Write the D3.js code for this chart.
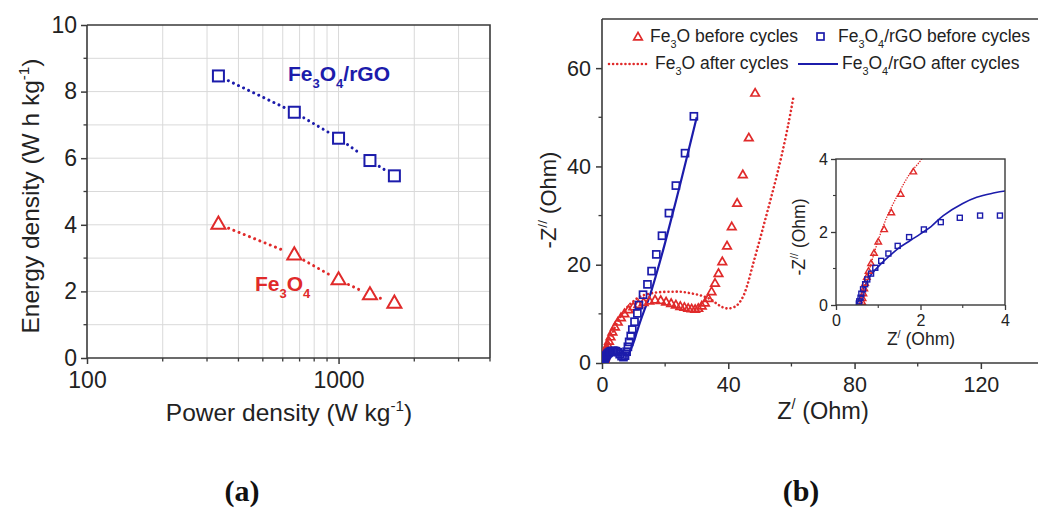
<!DOCTYPE html>
<html>
<head>
<meta charset="utf-8">
<script src="https://cdn.jsdelivr.net/npm/d3@7"></script>
<style>
  html, body { margin: 0; padding: 0; background: #fff; }
  svg { display: block; font-family: "Liberation Sans", Arial, sans-serif; }
</style>
</head>
<body>
<svg id="fig" width="1038" height="509"></svg>
<script>
// ---------- (a) Ragone plot ----------
const powerDensity = [333, 667, 1000, 1333, 1667];          // W kg-1
const energyRGO    = [8.47, 7.38, 6.6, 5.93, 5.47];         // Fe3O4/rGO, W h kg-1
const energyFe3O4  = [4.02, 3.1, 2.35, 1.9, 1.65];          // Fe3O4, W h kg-1
const ragoneXTicks = [100, 1000];
const ragoneYTicks = [0, 2, 4, 6, 8, 10];

// ---------- (b) Nyquist plot ----------
// Fe3O4 before cycles (triangles): Z' and -Z''
const feBeforeRe = [0.62,0.63,0.65,0.67,0.69,0.73,0.77,0.83,0.90,1.00,1.14,1.31,1.53,1.83,
  2.2,2.7,3.3,4.1,5.0,6.0,7.1,8.4,9.9,11.5,13.2,15.0,16.8,18.6,20.3,21.9,23.4,24.8,26.1,27.3,
  28.4,29.5,30.5,31.6,32.6,33.7,34.7,35.8,36.9,38.1,39.6,41.1,42.8,44.6,46.5,48.5];
const feBeforeIm = [0.08,0.18,0.31,0.45,0.60,0.76,0.93,1.14,1.42,1.73,2.07,2.53,3.04,3.65,
  4.4,5.3,6.3,7.3,8.3,9.2,10.0,10.8,11.4,11.9,12.3,12.6,12.8,12.7,12.4,12.1,11.8,11.5,11.3,11.1,
  11.0,10.9,11.1,11.6,12.2,13.1,14.5,16.2,18.2,20.6,23.8,27.7,32.5,38.3,45.8,54.9];
// Fe3O4/rGO before cycles (squares)
const rgoBeforeRe = [0.54,0.55,0.58,0.60,0.64,0.69,0.74,0.83,0.93,1.07,1.24,1.46,1.73,2.08,2.48,2.93,3.41,3.88,
  4.4,5.0,5.6,6.2,6.8,7.3,7.8,8.2,8.6,9.1,9.6,10.3,11.2,11.7,13.0,14.4,15.7,17.2,19.0,21.2,23.4,26.3,29.1];
const rgoBeforeIm = [0.04,0.10,0.20,0.31,0.43,0.57,0.70,0.86,1.02,1.21,1.41,1.62,1.86,2.07,2.27,2.39,2.45,2.45,
  2.4,2.2,1.8,1.4,1.2,1.5,2.3,3.3,4.3,5.5,6.8,8.4,10.1,11.8,13.9,16.0,18.7,22.1,25.9,30.5,36.1,42.7,50.2];
// Fe3O4 after cycles (dotted line)
const feAfterRe = [0.62,0.66,0.72,0.8,0.95,1.2,1.5,1.75,2.03,2.6,3.4,4.5,6,8,10,12,15,18,22,25,28,31,34,36.3,38,40,
  42.5,44.5,46,47.5,49,51,53,55,57,59,60.6];
const feAfterIm = [0,0.3,0.6,1.0,1.6,2.4,3.1,3.6,4.0,5.0,6.3,7.8,9.6,11.4,12.6,13.5,14.1,14.4,14.5,14.5,14.2,13.8,13.1,12.1,11.4,11.1,
  11.6,13.3,15.8,19.3,22.8,27.5,32.3,37.2,42.5,48.5,54];
// Fe3O4/rGO after cycles (solid line)
const rgoAfterRe = [0.49,0.6,0.8,1.04,1.28,1.5,1.75,2.0,2.25,2.54,3.0,3.33,3.7,4.04,4.6,5.3,6.0,6.8,7.5,8.2,9,10,11,12,13.5,15,17,20,25,30];
const rgoAfterIm = [0,0.3,0.78,1.1,1.36,1.57,1.76,1.95,2.15,2.45,2.78,2.95,3.06,3.13,3.15,3.0,2.6,2.0,1.6,1.6,2.6,4.2,6.2,8.2,10.9,13.4,17.6,24.5,37,50];

const nyqXTicks = [0, 40, 80, 120];
const nyqXMinor = [20, 60, 100, 140];
const nyqYTicks = [0, 20, 40, 60];
const nyqYMinor = [10, 30, 50];
const insetTicks = [0, 2, 4];
const insetMinor = [1, 3];

const BLUE = "#1c1cab";
const RED = "#e02a2a";
const AXIS = "#3a3a3a";
const GRID = "#d9d9d9";
const FONT = "Liberation Sans, Arial, sans-serif";

const svg = d3.select("#fig");

// Text with sub/superscripts: parts = [[text, "sub"|"sup"|""], ...]
function richText(parent, x, y, parts, size, attrs = {}) {
  const t = parent.append("text").attr("x", x).attr("y", y).attr("font-size", size)
    .attr("font-family", FONT);
  Object.entries(attrs).forEach(([k, v]) => t.attr(k, v));
  let shift = 0;
  parts.forEach(([s, kind]) => {
    const target = kind === "sub" ? size * 0.32 : kind === "sup" ? -size * 0.42 : 0;
    const ts = t.append("tspan").text(s).attr("dy", target - shift);
    if (kind) ts.attr("font-size", size * 0.62);
    shift = target;
  });
  return t;
}

// ================= (a) =================
const xL = d3.scaleLog().domain([100, 4000]).range([87, 490]);
const yL = d3.scaleLinear().domain([0, 10]).range([358, 25]);
const gA = svg.append("g");

// grid: every log step and every unit of energy
const logGrid = d3.range(2, 10).map(d => d * 100).concat([2000, 3000]);
gA.append("g").selectAll("line").data(logGrid).join("line")
  .attr("x1", d => xL(d)).attr("x2", d => xL(d)).attr("y1", yL(0)).attr("y2", yL(10))
  .attr("stroke", GRID).attr("stroke-width", 1);
gA.append("g").selectAll("line").data(d3.range(1, 10)).join("line")
  .attr("x1", xL(100)).attr("x2", xL(4000)).attr("y1", d => yL(d)).attr("y2", d => yL(d))
  .attr("stroke", GRID).attr("stroke-width", 1);
gA.append("line").attr("x1", xL(1000)).attr("x2", xL(1000)).attr("y1", yL(0)).attr("y2", yL(10))
  .attr("stroke", GRID);

// axes
const axLeftA = d3.axisLeft(yL).tickValues(ragoneYTicks).tickSize(6).tickPadding(4).tickFormat(d3.format("d"));
const gAy = gA.append("g").attr("transform", `translate(${xL(100)},0)`).call(axLeftA);
const axBottomA = d3.axisBottom(xL).tickValues(ragoneXTicks).tickSize(6).tickPadding(8).tickFormat(d3.format("d"));
const gAx = gA.append("g").attr("transform", `translate(0,${yL(0)})`).call(axBottomA);
// minor ticks
gA.append("g").selectAll("line").data([1, 3, 5, 7, 9]).join("line")
  .attr("x1", xL(100) - 3.5).attr("x2", xL(100)).attr("y1", d => yL(d)).attr("y2", d => yL(d))
  .attr("stroke", AXIS).attr("stroke-width", 1.3);
gA.append("g").selectAll("line").data(logGrid.concat([4000])).join("line")
  .attr("x1", d => xL(d)).attr("x2", d => xL(d)).attr("y1", yL(0)).attr("y2", yL(0) + 3.5)
  .attr("stroke", AXIS).attr("stroke-width", 1.3);
[gAy, gAx].forEach(g => {
  g.select(".domain").attr("stroke", AXIS).attr("stroke-width", 1.6);
  g.selectAll(".tick line").attr("stroke", AXIS).attr("stroke-width", 1.5);
  g.selectAll(".tick text").attr("font-size", 23).attr("fill", "#222").attr("font-family", FONT);
});
gAx.select(".domain").attr("d", `M${xL(100)},0H${xL(4000)}`);
gAy.select(".domain").attr("d", `M0,${yL(0)}V${yL(10)}`);
// frame
gA.append("path").attr("d", `M${xL(100)},${yL(10)}H${xL(4000)}V${yL(0)}`)
  .attr("fill", "none").attr("stroke", AXIS).attr("stroke-width", 1.6);

// dotted connectors broken around the markers
function gappedLine(g, pts, gap, color, width, dash) {
  for (let i = 0; i < pts.length - 1; i++) {
    const [x1, y1] = pts[i], [x2, y2] = pts[i + 1];
    const len = Math.hypot(x2 - x1, y2 - y1);
    const ux = (x2 - x1) / len, uy = (y2 - y1) / len;
    g.append("line")
      .attr("x1", x1 + ux * gap).attr("y1", y1 + uy * gap)
      .attr("x2", x2 - ux * gap).attr("y2", y2 - uy * gap)
      .attr("stroke", color).attr("stroke-width", width)
      .attr("stroke-linecap", "round").attr("stroke-dasharray", dash);
  }
}
const ptsRGO = powerDensity.map((p, i) => [xL(p), yL(energyRGO[i])]);
const ptsFe = powerDensity.map((p, i) => [xL(p), yL(energyFe3O4[i])]);
gappedLine(gA, ptsRGO, 11, BLUE, 3, "0.01 5.6");
gappedLine(gA, ptsFe, 11, RED, 3, "0.01 5.6");

const triPath = s => { const h = s * 0.866; return `M0,${-h * 0.62}L${s / 2},${h * 0.38}L${-s / 2},${h * 0.38}Z`; };
gA.append("g").selectAll("rect").data(ptsRGO).join("rect")
  .attr("x", d => d[0] - 5.5).attr("y", d => d[1] - 5.5).attr("width", 11).attr("height", 11)
  .attr("fill", "#fff").attr("stroke", BLUE).attr("stroke-width", 2);
gA.append("g").selectAll("path").data(ptsFe).join("path")
  .attr("transform", d => `translate(${d[0]},${d[1]})`).attr("d", triPath(14))
  .attr("fill", "#fff").attr("stroke", RED).attr("stroke-width", 2);

richText(gA, 288, 81, [["Fe", ""], ["3", "sub"], ["O", ""], ["4", "sub"], ["/rGO", ""]], 21,
  { fill: BLUE, "font-weight": "bold" });
richText(gA, 255, 291, [["Fe", ""], ["3", "sub"], ["O", ""], ["4", "sub"]], 21,
  { fill: RED, "font-weight": "bold" });

// axis titles
richText(gA, 289, 421, [["Power density (W kg", ""], ["-1", "sup"], [")", ""]], 24.5,
  { "text-anchor": "middle", fill: "#222" });
richText(gA, 0, 0, [["Energy density (W h kg", ""], ["-1", "sup"], [")", ""]], 24.5,
  { "text-anchor": "middle", fill: "#222", transform: "translate(39,196) rotate(-90)" });

// ================= (b) =================
const xR = d3.scaleLinear().domain([0, 140]).range([602, 1044]);
const yR = d3.scaleLinear().domain([0, 70]).range([363, 19]);
const gB = svg.append("g");
gB.append("clipPath").attr("id", "clipMain").append("rect")
  .attr("x", xR(0)).attr("y", yR(70)).attr("width", xR(140) - xR(0)).attr("height", yR(0) - yR(70));

const axLeftB = d3.axisLeft(yR).tickValues(nyqYTicks).tickSize(6).tickPadding(5);
const gBy = gB.append("g").attr("transform", `translate(${xR(0)},0)`).call(axLeftB);
const axBottomB = d3.axisBottom(xR).tickValues(nyqXTicks).tickSize(6).tickPadding(8);
const gBx = gB.append("g").attr("transform", `translate(0,${yR(0)})`).call(axBottomB);
[gBy, gBx].forEach(g => {
  g.select(".domain").attr("stroke", AXIS).attr("stroke-width", 1.6);
  g.selectAll(".tick line").attr("stroke", AXIS).attr("stroke-width", 1.5);
  g.selectAll(".tick text").attr("font-size", 21.5).attr("fill", "#222").attr("font-family", FONT);
});
gBx.select(".domain").attr("d", `M${xR(0)},0H${xR(140)}`);
gBy.select(".domain").attr("d", `M0,${yR(0)}V${yR(70)}`);
gB.append("g").selectAll("line").data(nyqYMinor).join("line")
  .attr("x1", xR(0) - 3.5).attr("x2", xR(0)).attr("y1", d => yR(d)).attr("y2", d => yR(d))
  .attr("stroke", AXIS).attr("stroke-width", 1.3);
gB.append("g").selectAll("line").data(nyqXMinor).join("line")
  .attr("x1", d => xR(d)).attr("x2", d => xR(d)).attr("y1", yR(0)).attr("y2", yR(0) + 3.5)
  .attr("stroke", AXIS).attr("stroke-width", 1.3);
gB.append("line").attr("x1", xR(0)).attr("x2", xR(140)).attr("y1", yR(70)).attr("y2", yR(70))
  .attr("stroke", AXIS).attr("stroke-width", 1.6);

function drawNyquist(g, x, y, clipId, sz) {
  const plot = g.append("g").attr("clip-path", `url(#${clipId})`);
  const line = d3.line().x(d => x(d[0])).y(d => y(d[1])).curve(d3.curveCatmullRom.alpha(0.5));
  plot.append("path").datum(feAfterRe.map((v, i) => [v, feAfterIm[i]]))
    .attr("d", line).attr("fill", "none").attr("stroke", RED)
    .attr("stroke-width", sz.dotW).attr("stroke-linecap", "round").attr("stroke-dasharray", sz.dash);
  plot.append("path").datum(rgoAfterRe.map((v, i) => [v, rgoAfterIm[i]]))
    .attr("d", line).attr("fill", "none").attr("stroke", BLUE).attr("stroke-width", sz.solidW);
  plot.append("g").selectAll("path").data(feBeforeRe.map((v, i) => [v, feBeforeIm[i]])).join("path")
    .attr("transform", d => `translate(${x(d[0])},${y(d[1])})`).attr("d", triPath(sz.tri))
    .attr("fill", "none").attr("stroke", RED).attr("stroke-width", sz.mw);
  plot.append("g").selectAll("rect").data(rgoBeforeRe.map((v, i) => [v, rgoBeforeIm[i]])).join("rect")
    .attr("x", d => x(d[0]) - sz.sq / 2).attr("y", d => y(d[1]) - sz.sq / 2)
    .attr("width", sz.sq).attr("height", sz.sq)
    .attr("fill", "none").attr("stroke", BLUE).attr("stroke-width", sz.mw);
}
drawNyquist(gB, xR, yR, "clipMain", { dotW: 2.6, dash: "0.01 4.1", solidW: 2.2, tri: 8.5, sq: 7, mw: 1.7 });

// axis titles
richText(gB, 823, 419, [["Z", ""], ["/", "sup"], [" (Ohm)", ""]], 23.5, { "text-anchor": "middle", fill: "#222" });
richText(gB, 0, 0, [["-Z", ""], ["//", "sup"], [" (Ohm)", ""]], 22,
  { "text-anchor": "middle", fill: "#222", transform: "translate(556,200) rotate(-90)" });

// legend
const LG = 17.5;
const lg = gB.append("g");
lg.append("path").attr("transform", "translate(638,37)").attr("d", triPath(8.5))
  .attr("fill", "none").attr("stroke", RED).attr("stroke-width", 1.7);
richText(lg, 650, 42, [["Fe", ""], ["3", "sub"], ["O before cycles", ""]], LG, { fill: "#222" });
lg.append("rect").attr("x", 817).attr("y", 33).attr("width", 7).attr("height", 7)
  .attr("fill", "none").attr("stroke", BLUE).attr("stroke-width", 1.7);
richText(lg, 838, 42, [["Fe", ""], ["3", "sub"], ["O", ""], ["4", "sub"], ["/rGO before cycles", ""]], LG, { fill: "#222" });
lg.append("line").attr("x1", 609).attr("x2", 647).attr("y1", 64).attr("y2", 64)
  .attr("stroke", RED).attr("stroke-width", 2.6).attr("stroke-linecap", "round").attr("stroke-dasharray", "0.01 4.1");
richText(lg, 655, 69, [["Fe", ""], ["3", "sub"], ["O after cycles", ""]], LG, { fill: "#222" });
lg.append("line").attr("x1", 798).attr("x2", 838).attr("y1", 64).attr("y2", 64)
  .attr("stroke", BLUE).attr("stroke-width", 2.2);
richText(lg, 842, 69, [["Fe", ""], ["3", "sub"], ["O", ""], ["4", "sub"], ["/rGO after cycles", ""]], LG, { fill: "#222" });

// ---------- inset ----------
const xI = d3.scaleLinear().domain([0, 4]).range([836, 1005]);
const yI = d3.scaleLinear().domain([0, 4]).range([305, 159]);
const gI = svg.append("g");
gI.append("rect").attr("x", xI(0)).attr("y", yI(4)).attr("width", xI(4) - xI(0)).attr("height", yI(0) - yI(4))
  .attr("fill", "#fff");
gI.append("clipPath").attr("id", "clipInset").append("rect")
  .attr("x", xI(0)).attr("y", yI(4)).attr("width", xI(4) - xI(0)).attr("height", yI(0) - yI(4));
drawNyquist(gI, xI, yI, "clipInset", { dotW: 1.5, dash: "0.01 2.6", solidW: 1.6, tri: 6.5, sq: 5, mw: 1.4 });
gI.append("rect").attr("x", xI(0)).attr("y", yI(4)).attr("width", xI(4) - xI(0)).attr("height", yI(0) - yI(4))
  .attr("fill", "none").attr("stroke", AXIS).attr("stroke-width", 1.4);
const gIy = gI.append("g").attr("transform", `translate(${xI(0)},0)`)
  .call(d3.axisLeft(yI).tickValues(insetTicks).tickSize(5).tickPadding(3).tickFormat(d3.format("d")));
const gIx = gI.append("g").attr("transform", `translate(0,${yI(0)})`)
  .call(d3.axisBottom(xI).tickValues(insetTicks).tickSize(5).tickPadding(5).tickFormat(d3.format("d")));
[gIy, gIx].forEach(g => {
  g.select(".domain").remove();
  g.selectAll(".tick line").attr("stroke", AXIS).attr("stroke-width", 1.3);
  g.selectAll(".tick text").attr("font-size", 16).attr("fill", "#222").attr("font-family", FONT);
});
gI.append("g").selectAll("line").data(insetMinor).join("line")
  .attr("x1", xI(0) - 3).attr("x2", xI(0)).attr("y1", d => yI(d)).attr("y2", d => yI(d))
  .attr("stroke", AXIS).attr("stroke-width", 1.1);
gI.append("g").selectAll("line").data(insetMinor).join("line")
  .attr("x1", d => xI(d)).attr("x2", d => xI(d)).attr("y1", yI(0)).attr("y2", yI(0) + 3)
  .attr("stroke", AXIS).attr("stroke-width", 1.1);
richText(gI, 921, 345, [["Z", ""], ["/", "sup"], [" (Ohm)", ""]], 17.5, { "text-anchor": "middle", fill: "#222" });
richText(gI, 0, 0, [["-Z", ""], ["//", "sup"], [" (Ohm)", ""]], 17.5,
  { "text-anchor": "middle", fill: "#222", transform: "translate(805,237) rotate(-90)" });

// ---------- panel labels ----------
svg.append("text").attr("x", 242).attr("y", 501).attr("text-anchor", "middle")
  .attr("font-family", "Liberation Serif, Times New Roman, serif").attr("font-weight", "bold")
  .attr("font-size", 30).attr("fill", "#111").text("(a)");
svg.append("text").attr("x", 801).attr("y", 501).attr("text-anchor", "middle")
  .attr("font-family", "Liberation Serif, Times New Roman, serif").attr("font-weight", "bold")
  .attr("font-size", 30).attr("fill", "#111").text("(b)");
</script>
</body>
</html>
